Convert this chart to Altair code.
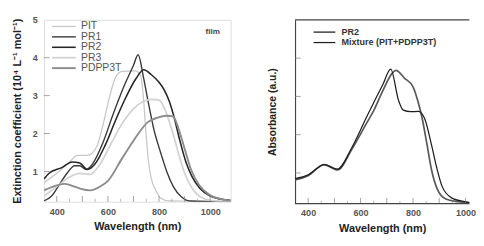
import altair as alt
import pandas as pd

# ---------------- left panel data (extinction coefficient, 10^4 L^-1 mol^-1) -------------
pit_wl = [350, 400, 450, 480, 520, 556, 580, 606, 631, 656, 706, 725, 737, 748, 758, 770, 787, 806, 840, 1080]
pit_v = [0.70, 0.95, 1.25, 1.42, 1.42, 1.65, 2.20, 2.95, 3.50, 3.64, 3.65, 3.58, 3.10, 2.10, 1.30, 0.80, 0.50, 0.30, 0.22, 0.20]

pr1_wl = [350, 380, 410, 440, 470, 490, 515, 540, 580, 620, 660, 700, 718, 740, 760, 780, 806, 830, 856, 887, 920, 1080]
pr1_v = [0.22, 0.35, 0.65, 0.95, 1.15, 1.15, 1.05, 1.20, 1.75, 2.50, 3.20, 3.80, 4.08, 3.45, 2.75, 2.10, 1.50, 1.00, 0.60, 0.33, 0.22, 0.20]

pr2_wl = [350, 370, 420, 460, 490, 520, 550, 590, 630, 670, 710, 740, 770, 800, 820, 840, 860, 880, 905, 930, 960, 1000, 1040, 1080]
pr2_v = [0.80, 0.95, 1.10, 1.25, 1.22, 1.05, 1.20, 1.70, 2.35, 2.95, 3.45, 3.68, 3.55, 3.35, 3.15, 2.85, 2.40, 1.85, 1.25, 0.85, 0.55, 0.35, 0.27, 0.24]

pr3_wl = [350, 400, 450, 490, 530, 570, 610, 650, 700, 740, 770, 800, 825, 850, 875, 900, 930, 970, 1020, 1080]
pr3_v = [0.35, 0.60, 0.85, 0.95, 0.92, 1.20, 1.70, 2.20, 2.65, 2.85, 2.90, 2.88, 2.60, 2.10, 1.50, 0.95, 0.55, 0.30, 0.22, 0.20]

pdpp_wl = [350, 400, 430, 460, 494, 530, 570, 600, 656, 706, 756, 794, 830, 855, 875, 900, 925, 956, 993, 1043, 1080]
pdpp_v = [0.50, 0.63, 0.67, 0.62, 0.54, 0.50, 0.60, 0.75, 1.35, 1.87, 2.30, 2.42, 2.47, 2.45, 2.15, 1.60, 1.05, 0.65, 0.40, 0.27, 0.23]

left_series = ["PIT", "PR1", "PR2", "PR3", "PDPP3T"]
left_colors = ["#c6c6c6", "#3a3a3a", "#262626", "#d2d2d2", "#8c8c8c"]
left_widths = [1.3, 2.0, 1.7, 1.3, 1.2]

# ---------------- right panel data (absorbance, a.u.) -------------
mix_wl = [350, 400, 461, 512, 565, 623, 648, 685, 715, 745, 763, 790, 821, 846, 871, 890, 911, 947, 997, 1025]
mix_v = [0.85, 0.95, 1.22, 1.10, 1.64, 2.46, 2.81, 3.31, 3.71, 2.89, 2.64, 2.60, 2.61, 2.39, 1.72, 1.15, 0.65, 0.35, 0.25, 0.22]

pr2b_wl = [350, 400, 461, 512, 565, 623, 648, 685, 720, 735, 767, 800, 818, 836, 854, 871, 893, 925, 970, 1025]
pr2b_v = [0.82, 0.93, 1.22, 1.08, 1.60, 2.30, 2.60, 3.15, 3.60, 3.68, 3.48, 3.25, 2.89, 2.39, 1.72, 1.07, 0.57, 0.32, 0.25, 0.22]

right_series = ["PR2", "Mixture (PIT+PDPP3T)"]
right_colors = ["#5a5a5a", "#1e1e1e"]
right_widths = [1.8, 1.3]

x_major = [400, 500, 600, 700, 800, 900, 1000]
x_minor = [450, 550, 650, 750, 850, 950, 1050]
y_ticks = [1, 2, 3, 4]

FONT = "Liberation Sans"

left_rows = []
for name, wl, v in [("PIT", pit_wl, pit_v), ("PR1", pr1_wl, pr1_v), ("PR2", pr2_wl, pr2_v),
                    ("PR3", pr3_wl, pr3_v), ("PDPP3T", pdpp_wl, pdpp_v)]:
    for i, (a, b) in enumerate(zip(wl, v)):
        left_rows.append({"series": name, "wl": a, "val": b, "order": i})
left_df = pd.DataFrame(left_rows)

right_rows = []
for name, wl, v in [("PR2", pr2b_wl, pr2b_v), ("Mixture (PIT+PDPP3T)", mix_wl, mix_v)]:
    for i, (a, b) in enumerate(zip(wl, v)):
        right_rows.append({"series": name, "wl": a, "val": b, "order": i})
right_df = pd.DataFrame(right_rows)

tick_major_df = pd.DataFrame({"wl": x_major})
tick_minor_df = pd.DataFrame({"wl": x_minor})
ytick_df = pd.DataFrame({"val": y_ticks})

LW, LH = 197, 192
RW, RH = 184, 194
R_MAX = 1015

xs_left = alt.Scale(domain=[350, 1080], nice=False)
xs_right = alt.Scale(domain=[350, R_MAX], nice=False)
ys = alt.Scale(domain=[0.2, 5], nice=False)


def x_axis():
    return alt.Axis(values=x_major, format="d", ticks=False, grid=False, labelFont=FONT, labelFontSize=9.5,
                    labelFontWeight="bold", labelColor="#555", labelPadding=5,
                    title="Wavelength (nm)", titleFont=FONT, titleFontSize=11.5, titleFontWeight="bold",
                    titleColor="#222", titlePadding=6, domain=False)


# ----- left panel -----
left_lines = alt.Chart(left_df).mark_line(interpolate="monotone", clip=True).encode(
    x=alt.X("wl:Q", scale=xs_left, axis=x_axis()),
    y=alt.Y("val:Q", scale=ys, axis=alt.Axis(values=[1, 2, 3, 4, 5], ticks=False, grid=False, domain=False,
                                             labelFont=FONT, labelFontSize=9.5, labelFontWeight="bold",
                                             labelColor="#555", labelPadding=7,
                                             title="Extinction coefficient (10⁴ L⁻¹ mol⁻¹)",
                                             titleFont=FONT, titleFontSize=11.5, titleFontWeight="bold",
                                             titleColor="#222", titlePadding=10)),
    color=alt.Color("series:N", sort=left_series,
                    scale=alt.Scale(domain=left_series, range=left_colors),
                    legend=alt.Legend(title=None, orient="none", legendX=15, legendY=1,
                                      symbolType="M-2.5,0H2.5", symbolSize=100, symbolStrokeWidth=1.6,
                                      labelFont=FONT, labelFontSize=11, labelColor="#555",
                                      labelOffset=12, rowPadding=-1, padding=0)),
    strokeWidth=alt.StrokeWidth("series:N", sort=left_series,
                                scale=alt.Scale(domain=left_series, range=left_widths), legend=None),
    order="order:Q",
)

left_xt = alt.Chart(tick_major_df).mark_tick(orient="vertical", size=6, color="#777", yOffset=-3, thickness=1).encode(
    x=alt.X("wl:Q", scale=xs_left), y=alt.datum(0.2))
left_xt2 = alt.Chart(tick_minor_df).mark_tick(orient="vertical", size=3, color="#999", yOffset=-1.5, thickness=1).encode(
    x=alt.X("wl:Q", scale=xs_left), y=alt.datum(0.2))
left_yt = alt.Chart(ytick_df).mark_tick(orient="horizontal", size=6, color="#777", xOffset=3, thickness=1).encode(
    y=alt.Y("val:Q", scale=ys), x=alt.datum(350))
film = alt.Chart(pd.DataFrame({"t": ["film"], "wl": [1010], "val": [4.7]})).mark_text(
    font=FONT, fontSize=8.5, fontWeight="bold", color="#444").encode(
    x=alt.X("wl:Q", scale=xs_left), y=alt.Y("val:Q", scale=ys), text="t:N")

left = alt.layer(left_lines, left_xt, left_xt2, left_yt, film).properties(width=LW, height=LH)

# ----- right panel -----
right_lines = alt.Chart(right_df).mark_line(interpolate="monotone", clip=True).encode(
    x=alt.X("wl:Q", scale=xs_right, axis=x_axis()),
    y=alt.Y("val:Q", scale=ys, axis=alt.Axis(labels=False, ticks=False, grid=False, domain=True,
                                             domainColor="#444", domainWidth=1.2,
                                             title="Absorbance (a.u.)", titleFont=FONT, titleFontSize=11,
                                             titleFontWeight="bold", titleColor="#222", titlePadding=19)),
    color=alt.Color("series:N", sort=right_series,
                    scale=alt.Scale(domain=right_series, range=right_colors),
                    legend=alt.Legend(title=None, orient="none", legendX=25, legendY=7,
                                      symbolType="M-2.3,0H2.3", symbolSize=100, symbolStrokeWidth=1.6,
                                      labelFont=FONT, labelFontSize=9.5, labelFontWeight="bold",
                                      labelColor="#333", labelOffset=12, rowPadding=0, padding=0)),
    strokeWidth=alt.StrokeWidth("series:N", sort=right_series,
                                scale=alt.Scale(domain=right_series, range=right_widths), legend=None),
    order="order:Q",
)
right_xt = alt.Chart(tick_major_df).mark_tick(orient="vertical", size=6, color="#777", yOffset=-3, thickness=1).encode(
    x=alt.X("wl:Q", scale=xs_right), y=alt.datum(0.2))
right_xt2 = alt.Chart(tick_minor_df).mark_tick(orient="vertical", size=3, color="#999", yOffset=-1.5, thickness=1, clip=True).encode(
    x=alt.X("wl:Q", scale=xs_right), y=alt.datum(0.2))
right_yt = alt.Chart(ytick_df).mark_tick(orient="horizontal", size=6, color="#777", xOffset=3, thickness=1).encode(
    y=alt.Y("val:Q", scale=ys), x=alt.datum(350))
# top and bottom frame lines (the right border lies outside the photographed area)
frame_top = alt.Chart(pd.DataFrame({"val": [5]})).mark_rule(color="#444", strokeWidth=1.2).encode(
    y=alt.Y("val:Q", scale=ys), x=alt.datum(350), x2=alt.datum(R_MAX))
frame_bot = alt.Chart(pd.DataFrame({"val": [0.2]})).mark_rule(color="#444", strokeWidth=1.2).encode(
    y=alt.Y("val:Q", scale=ys), x=alt.datum(350), x2=alt.datum(R_MAX))

right = alt.layer(right_lines, right_xt, right_xt2, right_yt, frame_top, frame_bot).properties(
    width=RW, height=RH, view=alt.ViewBackground(stroke="transparent"))

chart = alt.hconcat(left, right, spacing=36).resolve_scale(
    color="independent", strokeWidth="independent", x="independent"
).configure_view(stroke="#444", strokeWidth=1.2).configure(
    background="white", padding={"left": 4, "top": 0, "right": 0, "bottom": 0})

chart.save("out.html", embed_options={"renderer": "svg", "actions": False})
